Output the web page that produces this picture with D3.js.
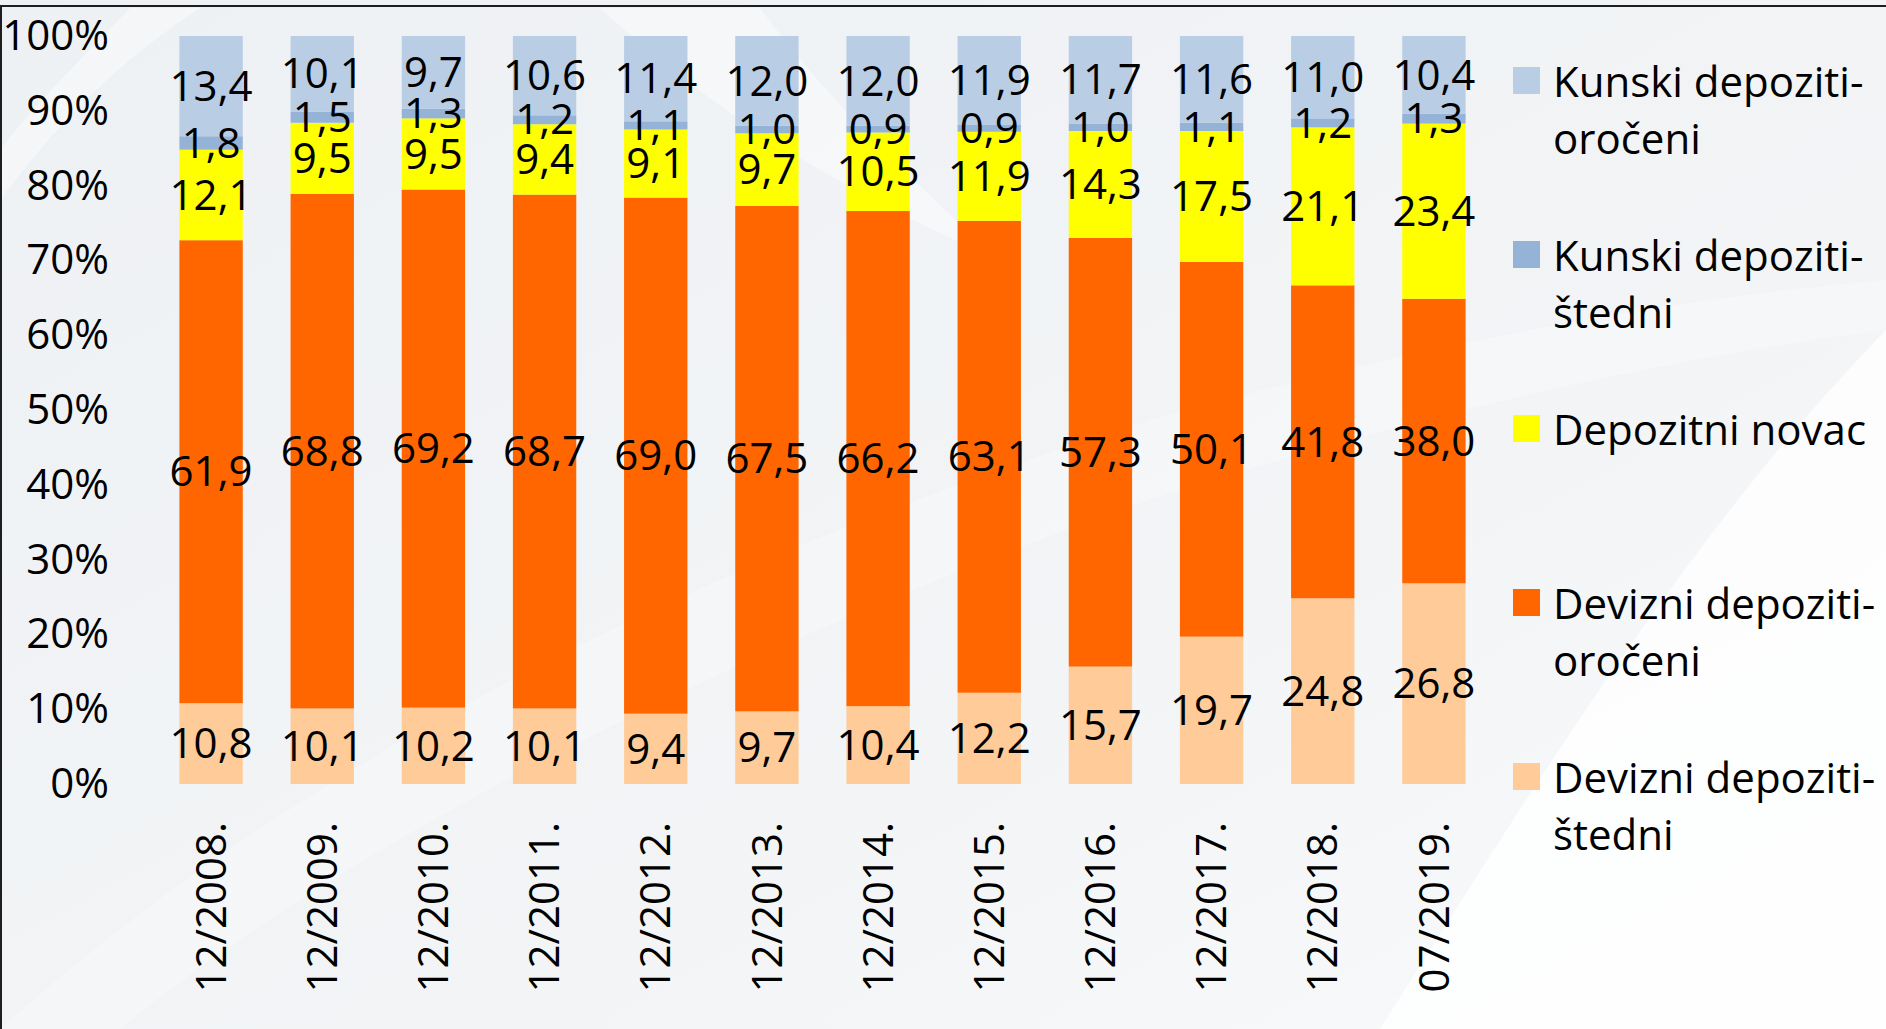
<!DOCTYPE html>
<html>
<head>
<meta charset="utf-8">
<script src="https://cdn.jsdelivr.net/npm/d3@7"></script>
<style>
  html, body { margin: 0; padding: 0; background: #f1f3f6; }
  svg { display: block; font-family: "Open Sans", sans-serif; }
</style>
</head>
<body>
<div id="chart"></div>
<script>
const categories = ['12/2008.', '12/2009.', '12/2010.', '12/2011.', '12/2012.', '12/2013.',
  '12/2014.', '12/2015.', '12/2016.', '12/2017.', '12/2018.', '07/2019.'];

// bottom to top
const devizniStedni = [10.8, 10.1, 10.2, 10.1, 9.4, 9.7, 10.4, 12.2, 15.7, 19.7, 24.8, 26.8];
const devizniOroceni = [61.9, 68.8, 69.2, 68.7, 69.0, 67.5, 66.2, 63.1, 57.3, 50.1, 41.8, 38.0];
const depozitniNovac = [12.1, 9.5, 9.5, 9.4, 9.1, 9.7, 10.5, 11.9, 14.3, 17.5, 21.1, 23.4];
const kunskiStedni = [1.8, 1.5, 1.3, 1.2, 1.1, 1.0, 0.9, 0.9, 1.0, 1.1, 1.2, 1.3];
const kunskiOroceni = [13.4, 10.1, 9.7, 10.6, 11.4, 12.0, 12.0, 11.9, 11.7, 11.6, 11.0, 10.4];

const seriesNames = [
  ['Devizni depoziti-', 'štedni'],
  ['Devizni depoziti-', 'oročeni'],
  ['Depozitni novac'],
  ['Kunski depoziti-', 'štedni'],
  ['Kunski depoziti-', 'oročeni']
];
const seriesValues = [devizniStedni, devizniOroceni, depozitniNovac, kunskiStedni, kunskiOroceni];
const colors = ['#FFCC99', '#FF6600', '#FFFF00', '#95B3D7', '#B9CDE5'];
const yTicks = [0, 0.1, 0.2, 0.3, 0.4, 0.5, 0.6, 0.7, 0.8, 0.9, 1];

const width = 1886, height = 1029;
const fontSize = 42;
const keys = seriesNames.map((d, i) => 's' + i);
const rows = categories.map((c, j) => {
  const r = { cat: c };
  keys.forEach((k, i) => { r[k] = seriesValues[i][j]; });
  return r;
});

const svg = d3.select('#chart').append('svg')
  .attr('width', width)
  .attr('height', height);

// background with soft white swooshes
const defs = svg.append('defs');
const grad = defs.append('linearGradient').attr('id', 'bg')
  .attr('x1', 0).attr('y1', 0).attr('x2', 1).attr('y2', 1);
grad.append('stop').attr('offset', '0%').attr('stop-color', '#eef1f4');
grad.append('stop').attr('offset', '60%').attr('stop-color', '#f2f4f6');
grad.append('stop').attr('offset', '100%').attr('stop-color', '#f9fafb');
svg.append('rect').attr('width', width).attr('height', height).attr('fill', 'url(#bg)');

svg.append('path')
  .attr('d', 'M1380,1029 C1550,760 1700,520 1886,330 L1886,1029 Z')
  .attr('fill', '#ffffff').attr('opacity', 0.8);
svg.append('path')
  .attr('d', 'M0,1029 C300,760 700,560 1150,420 C1400,350 1650,300 1886,280 L1886,330 C1650,360 1400,420 1150,500 C750,640 350,840 120,1029 Z')
  .attr('fill', '#ffffff').attr('opacity', 0.25);
svg.append('path')
  .attr('d', 'M600,8 C720,120 860,200 1000,260 C900,170 820,90 760,8 Z')
  .attr('fill', '#ffffff').attr('opacity', 0.4);
svg.append('path')
  .attr('d', 'M0,200 C60,120 120,60 200,8 L130,8 C80,60 30,110 0,150 Z')
  .attr('fill', '#ffffff').attr('opacity', 0.4);

// frame lines top and left
svg.append('line').attr('x1', 0).attr('x2', width).attr('y1', 6).attr('y2', 6)
  .attr('stroke', '#1e1e1e').attr('stroke-width', 2);
svg.append('line').attr('x1', 1).attr('x2', 1).attr('y1', 6).attr('y2', height)
  .attr('stroke', '#1e1e1e').attr('stroke-width', 2);

const x = d3.scaleBand()
  .domain(categories)
  .range([155.5, 1489.5])
  .paddingInner(0.43)
  .paddingOuter(0.215);

const y = d3.scaleLinear()
  .domain([0, 1])
  .range([784, 36]);

const stack = d3.stack().keys(keys).offset(d3.stackOffsetExpand);
const stacked = stack(rows);

const layers = svg.append('g').selectAll('g')
  .data(stacked)
  .enter().append('g')
  .attr('fill', (d, i) => colors[i]);

layers.selectAll('rect')
  .data(d => d)
  .enter().append('rect')
  .attr('x', d => x(d.data.cat))
  .attr('width', x.bandwidth())
  .attr('y', d => y(d[1]))
  .attr('height', d => y(d[0]) - y(d[1]));

// data labels
const fmt = v => d3.format('.1f')(v).replace('.', ',');
const labels = svg.append('g');
stacked.forEach((layer, i) => {
  labels.selectAll(null)
    .data(layer)
    .enter().append('text')
    .attr('x', d => x(d.data.cat) + x.bandwidth() / 2)
    .attr('y', d => y((d[0] + d[1]) / 2))
    .attr('dy', '0.35em')
    .attr('text-anchor', 'middle')
    .attr('font-size', fontSize)
    .attr('fill', '#000')
    .text(d => fmt(d.data[layer.key]));
});

// y axis
const yAxis = svg.append('g')
  .attr('transform', 'translate(109,0)')
  .call(d3.axisLeft(y).tickValues(yTicks).tickFormat(d3.format('.0%')).tickSize(0).tickPadding(0));
yAxis.select('.domain').remove();
yAxis.selectAll('text')
  .attr('font-size', fontSize)
  .attr('font-family', '"Open Sans", sans-serif')
  .attr('fill', '#000');

// x axis, rotated labels
const xAxis = svg.append('g')
  .attr('transform', 'translate(0,784)')
  .call(d3.axisBottom(x).tickSize(0).tickPadding(0));
xAxis.select('.domain').remove();
xAxis.selectAll('text')
  .attr('font-size', fontSize)
  .attr('font-family', '"Open Sans", sans-serif')
  .attr('fill', '#000')
  .attr('transform', 'rotate(-90)')
  .attr('x', -38)
  .attr('y', 0)
  .attr('dy', '0.35em')
  .attr('text-anchor', 'end');

// legend, top entry is the top of the stack
const legendOrder = [4, 3, 2, 1, 0];
const legend = svg.append('g').selectAll('g')
  .data(legendOrder)
  .enter().append('g')
  .attr('transform', (d, i) => `translate(1513,${82 + i * 174})`);

legend.append('rect')
  .attr('x', 0)
  .attr('y', -15)
  .attr('width', 27)
  .attr('height', 27)
  .attr('fill', d => colors[d]);

legend.each(function(d) {
  const t = d3.select(this).append('text')
    .attr('x', 40)
    .attr('y', 0)
    .attr('font-size', fontSize)
    .attr('fill', '#000');
  seriesNames[d].forEach((line, k) => {
    t.append('tspan').attr('x', 40).attr('dy', k === 0 ? '0.35em' : 57).text(line);
  });
});
</script>
</body>
</html>
